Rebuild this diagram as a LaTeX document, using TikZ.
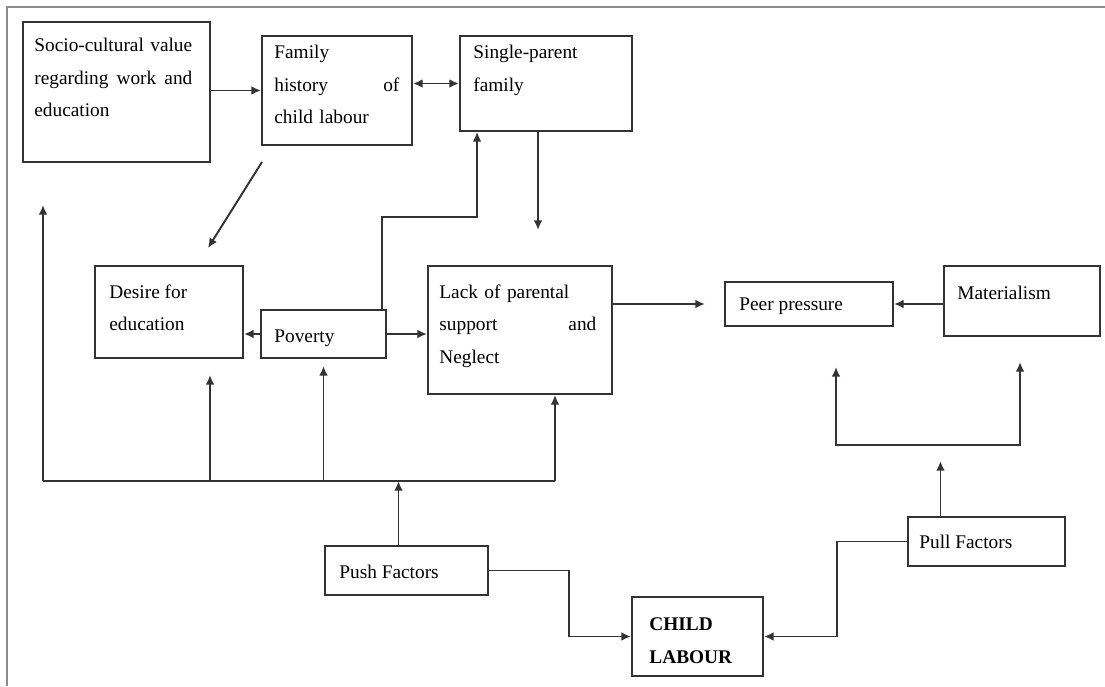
\documentclass[tikz,border=0pt]{standalone}
\usepackage{fontspec}
\setmainfont{Liberation Serif}
\usetikzlibrary{arrows.meta, positioning}
\tikzstyle{factorBox} = [rectangle, draw=black!80, line width=1.1pt]
\tikzstyle{boxText} = [anchor=north west, inner sep=0pt, align=left, font=\fontsize{11}{18.5}\selectfont]
\tikzstyle{arrowMain} = [line width=1.1pt, draw=black!80, -{Latex[length=5.5pt, width=5pt]}]
\tikzstyle{arrowBoth} = [line width=1.1pt, draw=black!80, {Latex[length=5.5pt, width=5pt]}-{Latex[length=5.5pt, width=5pt]}]
\tikzstyle{frameLine} = [line width=1pt, draw=black!45]

\begin{document}
\begin{tikzpicture}[x=0.02cm, y=-0.02cm]

    \useasboundingbox (0,0) rectangle (1105,686);
    \draw [frameLine] (7,686) -- (7,7) -- (1105,7);

    % boxes
    \node (socioVal) [factorBox, minimum width=3.74cm, minimum height=2.8cm] at (116.5,92) {};
    \node (famHist) [factorBox, minimum width=3cm, minimum height=2.18cm] at (337,90.5) {};
    \node (singPar) [factorBox, minimum width=3.44cm, minimum height=1.9cm] at (546,83.5) {};
    \node (desire) [factorBox, minimum width=2.96cm, minimum height=1.84cm] at (169,312) {};
    \node (poverty) [factorBox, minimum width=2.5cm, minimum height=0.96cm] at (323.5,334) {};
    \node (lack) [factorBox, minimum width=3.68cm, minimum height=2.56cm] at (520,330) {};
    \node (peer) [factorBox, minimum width=3.36cm, minimum height=0.88cm] at (809,304) {};
    \node (mat) [factorBox, minimum width=3.12cm, minimum height=1.4cm] at (1022,301) {};
    \node (pushF) [factorBox, minimum width=3.26cm, minimum height=0.98cm] at (406.5,570.5) {};
    \node (child) [factorBox, minimum width=2.62cm, minimum height=1.58cm] at (697.5,636.5) {};
    \node (pullF) [factorBox, minimum width=3.14cm, minimum height=0.98cm] at (986.5,541.5) {};

    % texts
    \node (socioTxt) [boxText, text width=3.16cm] at ([shift={(12,17)}]socioVal.north west) {Socio-cultural value\\ regarding\hfill work\hfill and\\ education};
    \node (famTxt) [boxText, text width=2.5cm] at ([shift={(13,10)}]famHist.north west) {Family\\ history\hfill of\\ child labour};
    \node (singTxt) [boxText] at ([shift={(14,10)}]singPar.north west) {Single-parent\\ family};
    \node (desTxt) [boxText] at ([shift={(15,19)}]desire.north west) {Desire for\\ education};
    \node (povTxt) [boxText] at ([shift={(14,20)}]poverty.north west) {Poverty};
    \node (lackTxt) [boxText, text width=3.14cm] at ([shift={(12,19)}]lack.north west) {Lack of parental\\ support\hfill and\\ Neglect};
    \node (peerTxt) [boxText] at ([shift={(15,16)}]peer.north west) {Peer pressure};
    \node (matTxt) [boxText] at ([shift={(14,21)}]mat.north west) {Materialism};
    \node (pushTxt) [boxText] at ([shift={(15,20)}]pushF.north west) {Push Factors};
    \node (pullTxt) [boxText] at ([shift={(12,19)}]pullF.north west) {Pull Factors};
    \node (childTxt) [boxText, font=\fontsize{11}{19}\selectfont\bfseries] at ([shift={(18,21)}]child.north west) {CHILD\\ LABOUR};

    % free ends
    \coordinate (famOut) at (262,162);
    \coordinate (desIn) at (208,248);
    \coordinate (lackIn) at (538,230);
    \coordinate (socioIn) at (43,205);
    \coordinate (desIn2) at (210,375);
    \coordinate (busL) at (43,481);
    \coordinate (busR) at (555,481);
    \coordinate (peerIn) at (836,367);
    \coordinate (matIn) at (1020,362);

    % upper links
    \draw [arrowMain] (famHist.west -| socioVal.east) -- (famHist.west);
    \draw [arrowBoth] (singPar.west -| famHist.east) -- (singPar.west);
    \draw [arrowMain] (famOut) -- (desIn);
    \draw [arrowMain] (lackIn |- singPar.south) -- (lackIn);
    \draw [arrowMain] ([shift={(-5,0)}]poverty.north east) -- ++(0,-92) -| ([shift={(18,0)}]singPar.south west);
    \draw [arrowMain] (poverty.west) -- (desire.east |- poverty.west);
    \draw [arrowMain] (poverty.east) -- (lack.west |- poverty.east);
    \draw [arrowMain] (lack.east |- peer.west) -- ([shift={(-19,0)}]peer.west);
    \draw [arrowMain] (mat.west |- peer.east) -- (peer.east);

    % push side
    \draw [line width=1.1pt, draw=black!80] (busL) -- (busR);
    \draw [arrowMain] (busL) -- (socioIn);
    \draw [arrowMain] (desIn2 |- busL) -- (desIn2);
    \draw [arrowMain] (poverty.south |- busL) -- ([shift={(0,7)}]poverty.south);
    \draw [arrowMain] (busR) -- (lack.south -| busR);
    \draw [arrowMain] ([shift={(-8,0)}]pushF.north) -- ([shift={(-8,0)}]pushF.north |- busL);
    \draw [arrowMain] (pushF.east) -- ++(80,0) |- (child.west);

    % pull side
    \draw [arrowMain] (pullF.west) -- ++(-70,0) |- (child.east);
    \draw [arrowMain] ([shift={(-46,0)}]pullF.north) -- ++(0,-55);
    \draw [arrowBoth] (peerIn) -- ++(0,78) -| (matIn);

\end{tikzpicture}
\end{document}
